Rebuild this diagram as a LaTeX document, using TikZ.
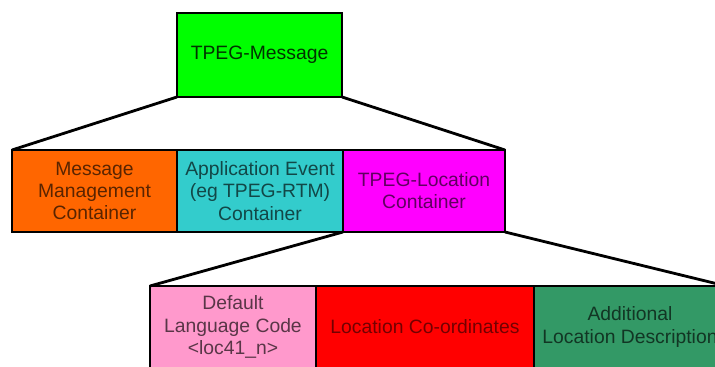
\documentclass[tikz,border=0pt]{standalone}
\usepackage{fontspec}
\setmainfont{Liberation Sans}
\definecolor{msggreen}{HTML}{00FF00}
\definecolor{mmcorange}{HTML}{FF6600}
\definecolor{appcyan}{HTML}{33CCCC}
\definecolor{locmagenta}{HTML}{FF00FF}
\definecolor{langpink}{HTML}{FF99CC}
\definecolor{coordred}{HTML}{FF0000}
\definecolor{descgreen}{HTML}{339966}

\tikzset{
  container/.style={draw, line width=1.6pt, outer sep=0pt, inner sep=0pt,
    anchor=north west, align=center, minimum height=1.64cm,
    font=\fontsize{11}{12.6}\selectfont},
  link/.style={line width=1.6pt}
}

\begin{document}
\begin{tikzpicture}
                      \useasboundingbox (0,0) rectangle (14.3,7.34);
                      \clip (0,0) rectangle (14.3,7.34);
                      % top level
                      \node[container, fill=msggreen, text=green!20!black,
                            minimum width=3.3cm, minimum height=1.68cm] (message) at (3.54,7.08) {TPEG-Message};
                      % containers of the message
                      \node[container, fill=mmcorange, text=mmcorange!35!black,
                            minimum width=3.3cm] (management) at (0.24,4.34) {Message\\Management\\Container};
                      \node[container, fill=appcyan, text=appcyan!35!black,
                            minimum width=3.32cm] (application) at (3.54,4.34) {Application Event\\(eg TPEG-RTM)\\Container};
                      \node[container, fill=locmagenta, text=violet!75!black,
                            minimum width=3.24cm] (location) at (6.86,4.34) {TPEG-Location\\Container};
                      % parts of the location container
                      \node[container, fill=langpink, text=langpink!35!black,
                            minimum width=3.32cm] (language) at (3.0,1.62) {Default\\Language Code\\<loc41\_n>};
                      \node[container, fill=coordred, text=coordred!45!black,
                            minimum width=4.36cm] (coordinates) at (6.32,1.62) {Location Co-ordinates};
                      \node[container, fill=descgreen, text=descgreen!35!black,
                            minimum width=3.84cm] (description) at (10.68,1.62) {Additional\\Location Description};
                      \draw[link] (message.south west) -- (management.north west);
                      \draw[link] (message.south east) -- (location.north east);
                      \draw[link] (location.south west) -- (language.north west);
                      \draw[link] (location.south east) -- (description.north east);
                    \end{tikzpicture}
\end{document}
